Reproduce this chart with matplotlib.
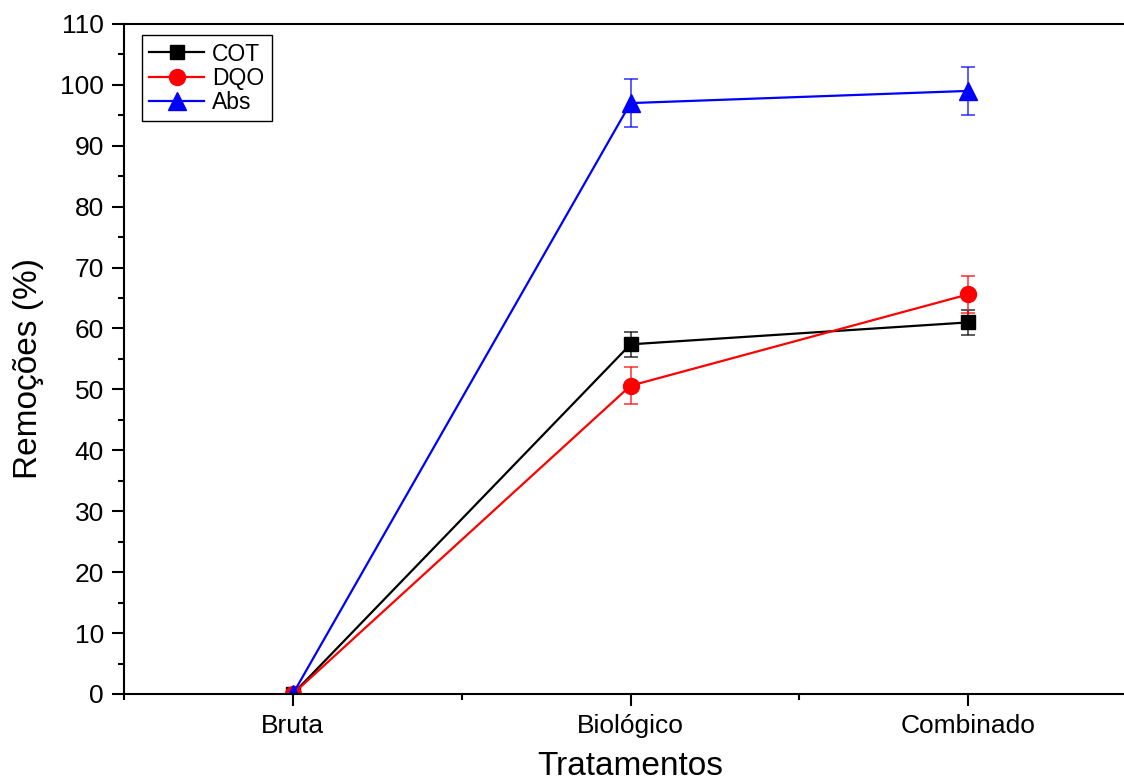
import matplotlib
matplotlib.use('Agg')
import matplotlib.pyplot as plt
from matplotlib.ticker import MultipleLocator, FixedLocator

categorias = ['Bruta', 'Biológico', 'Combinado']
cot = [0, 57.4, 61.0]
cot_err = [0, 2.0, 2.0]
dqo = [0, 50.6, 65.6]
dqo_err = [0, 3.0, 3.0]
abs_ = [0, 97.0, 99.0]
abs_err = [0, 4.0, 4.0]

plt.rcParams['font.family'] = ['Liberation Sans', 'DejaVu Sans']

fig = plt.figure(figsize=(11.24, 7.81), dpi=100)
ax = fig.add_axes([0.1103, 0.1114, 0.9013, 0.858])

x = list(range(len(categorias)))
series = [(cot, cot_err, 'COT', 'black', 's', 10),
          (dqo, dqo_err, 'DQO', 'red', 'o', 11.5),
          (abs_, abs_err, 'Abs', 'blue', '^', 13)]
for vals, err, lab, col, mk, ms in series:
    ax.errorbar(x, vals, yerr=err, fmt='none', capsize=5, elinewidth=1.2,
                capthick=1.2, ecolor=col, alpha=0.75)
    ax.plot(x, vals, color=col, marker=mk, markersize=ms, linewidth=1.6,
            label=lab)

ax.set_xlim(-0.5, 2.5)
ax.set_ylim(0, 110)
ax.set_xticks(x)
ax.set_xticklabels(categorias)
ax.xaxis.set_minor_locator(FixedLocator([-0.5, 0.5, 1.5, 2.5]))
ax.yaxis.set_major_locator(MultipleLocator(10))
ax.yaxis.set_minor_locator(MultipleLocator(5))
ax.tick_params(which='both', direction='out', width=1.5, labelsize=19,
               top=False, right=False)
ax.tick_params(which='major', length=8.5, pad=6)
ax.tick_params(which='minor', length=4.5)
for s in ax.spines.values():
    s.set_linewidth(1.5)

ax.set_xlabel('Tratamentos', fontsize=24, labelpad=9)
ax.set_ylabel('Remoções (%)', fontsize=24)
ax.yaxis.set_label_coords(-0.079, 0.485)

leg = ax.legend(loc='upper left', bbox_to_anchor=(0.0175, 0.9835), fontsize=16.5,
                fancybox=False, edgecolor='black', framealpha=1,
                handlelength=2.4, borderpad=0.33, labelspacing=0.05,
                handletextpad=0.35, borderaxespad=0.0)
leg.get_frame().set_linewidth(1.0)

fig.savefig('out.png', dpi=100)
